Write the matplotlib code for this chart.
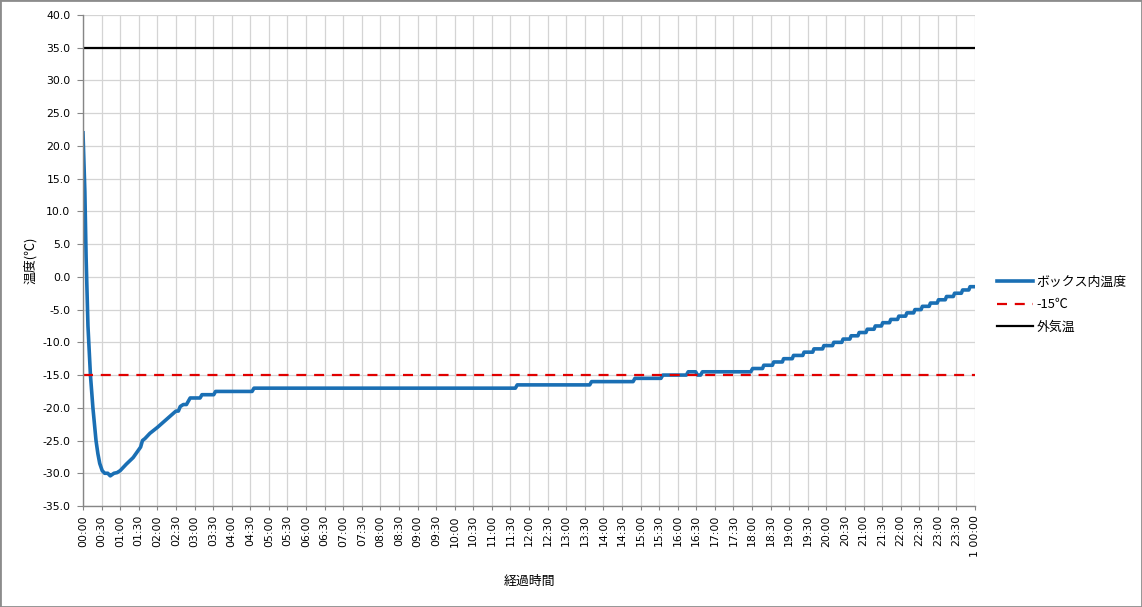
import matplotlib
matplotlib.use('Agg')
import matplotlib.pyplot as plt
from matplotlib.patches import Rectangle
from matplotlib.ticker import FixedLocator, FuncFormatter

# elapsed time in minutes and temperature inside the box
elapsed_min = [0, 3, 5, 8, 12, 16, 21, 24, 27, 31,
               35, 40, 44, 47, 50, 55, 60, 70, 81, 93,
               96, 100, 108, 120, 150, 154, 157, 162, 167, 170,
               173, 189, 192, 211, 214, 273, 276, 698, 701, 818,
               821, 888, 891, 933, 936, 974, 977, 989, 992, 997,
               1000, 1078, 1081, 1097, 1099, 1113, 1115, 1129, 1131, 1145,
               1147, 1162, 1164, 1178, 1180, 1194, 1196, 1210, 1212, 1225,
               1227, 1238, 1240, 1251, 1253, 1264, 1266, 1277, 1279, 1289,
               1291, 1302, 1304, 1315, 1317, 1328, 1330, 1341, 1343, 1353,
               1355, 1366, 1368, 1379, 1381, 1392, 1394, 1405, 1407, 1418,
               1420, 1430, 1432, 1440]
box_temp = [22.0, 13.0, 3.0, -7.5, -15.0, -20.0, -25.0, -27.0, -28.5, -29.6,
            -30.0, -30.0, -30.4, -30.2, -30.0, -29.9, -29.6, -28.6, -27.6, -26.0,
            -25.0, -24.7, -23.9, -23.0, -20.5, -20.5, -19.8, -19.5, -19.5, -19.0,
            -18.5, -18.5, -18.0, -18.0, -17.5, -17.5, -17.0, -17.0, -16.5, -16.5,
            -16.0, -16.0, -15.5, -15.5, -15.0, -15.0, -14.5, -14.5, -15.0, -15.0,
            -14.5, -14.5, -14.0, -14.0, -13.5, -13.5, -13.0, -13.0, -12.5, -12.5,
            -12.0, -12.0, -11.5, -11.5, -11.0, -11.0, -10.5, -10.5, -10.0, -10.0,
            -9.5, -9.5, -9.0, -9.0, -8.5, -8.5, -8.0, -8.0, -7.5, -7.5,
            -7.0, -7.0, -6.5, -6.5, -6.0, -6.0, -5.5, -5.5, -5.0, -5.0,
            -4.5, -4.5, -4.0, -4.0, -3.5, -3.5, -3.0, -3.0, -2.5, -2.5,
            -2.0, -2.0, -1.5, -1.5]

limit_temp = -15.0
outside_temp = 35.0

x_ticks = list(range(0, 1441, 30))
x_labels = ['%02d:%02d' % (m // 60, m % 60) for m in x_ticks[:-1]] + ['1 00:00']
y_ticks = list(range(-35, 41, 5))

plt.rcParams['font.family'] = ['DejaVu Sans', 'Noto Sans CJK JP']
jp = ['Noto Sans CJK JP', 'DejaVu Sans']

fig = plt.figure(figsize=(11.42, 6.07), dpi=100)
ax = fig.add_axes([83 / 1142, 1 - 506 / 607, 892 / 1142, 491 / 607])

ax.plot(elapsed_min, box_temp, color='#1a6fb4', lw=2.6, label='ボックス内温度')
ax.plot([0, 1440], [limit_temp, limit_temp], color='#e00000', lw=1.6,
        dashes=(4.5, 3.5), label='-15℃')
ax.plot([0, 1440], [outside_temp, outside_temp], color='black', lw=1.6,
        label='外気温')

ax.set_xlim(0, 1440)
ax.set_ylim(-35, 40)
ax.xaxis.set_major_locator(FixedLocator(x_ticks))
ax.set_xticklabels(x_labels, rotation=90, fontsize=7.8)
ax.yaxis.set_major_locator(FixedLocator(y_ticks))
ax.yaxis.set_major_formatter(FuncFormatter(lambda v, p: '%.1f' % v))
ax.tick_params(axis='y', length=4, color='#868686', pad=5, labelsize=7.8)
ax.tick_params(axis='x', length=3, color='#868686', pad=3.5)

ax.grid(True, color='#d4d4d4', lw=0.9)
ax.set_axisbelow(True)
for s in ['top', 'right']:
    ax.spines[s].set_visible(False)
for s in ['left', 'bottom']:
    ax.spines[s].set_color('#868686')
    ax.spines[s].set_linewidth(1)

ax.set_xlabel('経過時間', fontsize=9.3, family=jp, labelpad=13)
ax.set_ylabel('温度(℃)', fontsize=9.3, family=jp, labelpad=4)

fig.legend(loc='upper left', bbox_to_anchor=(997 / 1142, 1 - 276 / 607),
           frameon=False, borderpad=0, borderaxespad=0, handlelength=2.8,
           handletextpad=0.25, labelspacing=0.72,
           prop={'family': jp, 'size': 9.3})

fig.add_artist(Rectangle((0, 0), 1, 1, transform=fig.transFigure, fill=False,
                         edgecolor='#8c8c8c', lw=2))

fig.savefig('out.png', dpi=100)
